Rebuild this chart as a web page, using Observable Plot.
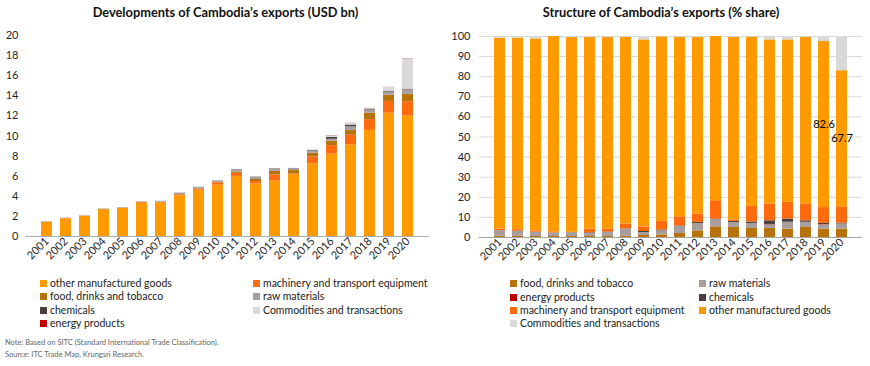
<!DOCTYPE html>
<html><head><meta charset="utf-8">
<script src="https://cdn.jsdelivr.net/npm/d3@7"></script>
<script src="https://cdn.jsdelivr.net/npm/@observablehq/plot@0.6"></script>
<style>
body{margin:0;background:#fff;font-family:Lato,"Open Sans",sans-serif;}
#wrap{position:relative;width:870px;height:366px;overflow:hidden;}
.title{position:absolute;top:4px;font-weight:bold;font-size:12.8px;color:#111;text-align:center;white-space:nowrap;line-height:16px;}
.chart{position:absolute;top:20px;}
.li{position:absolute;white-space:nowrap;line-height:12px;font-size:10.5px;color:#222;}
.sw{display:inline-block;width:7px;height:7px;margin-right:3px;}
.note{position:absolute;left:5px;font-size:7.5px;color:#666;white-space:nowrap;}
</style></head>
<body>
<div id="wrap">
  <div class="title" style="left:0;width:451px;">Developments of Cambodia’s exports (USD bn)</div>
  <div class="title" style="left:435px;width:452px;">Structure of Cambodia’s exports (% share)</div>
  <div id="left" class="chart" style="left:0"></div>
  <div id="right" class="chart" style="left:435px"></div>
  <div id="legL"></div>
  <div id="legR"></div>
  <div class="note" style="top:338px">Note: Based on SITC (Standard International Trade Classification).</div>
  <div class="note" style="top:350px">Source: ITC Trade Map, Krungsri Research.</div>
</div>
<script>
const years = ["2001","2002","2003","2004","2005","2006","2007","2008","2009","2010","2011","2012","2013","2014","2015","2016","2017","2018","2019","2020"];

const OTHER = "other manufactured goods";
const MACH = "machinery and transport equipment";
const FOOD = "food, drinks and tobacco";
const RAW = "raw materials";
const CHEM = "chemicals";
const COMM = "Commodities and transactions";
const ENERGY = "energy products";

const colors = {};
colors[OTHER] = "#ff9900";
colors[MACH] = "#ff6a0e";
colors[FOOD] = "#b8720a";
colors[RAW] = "#a99e9e";
colors[CHEM] = "#4a3f3f";
colors[COMM] = "#d9d9d9";
colors[ENERGY] = "#c00000";

// Left chart: USD bn
const leftOther  = [1.42,1.76,2.00,2.67,2.81,3.29,3.34,4.04,4.60,5.10,5.98,5.22,5.51,6.17,7.24,8.20,9.13,10.56,12.27,11.98];
const leftMach   = [0.01,0.02,0.02,0.01,0.01,0.07,0.05,0.10,0.11,0.24,0.31,0.25,0.62,0.05,0.67,0.84,0.94,1.07,1.17,1.43];
const leftFood   = [0.01,0.01,0.01,0.01,0.01,0.02,0.02,0.03,0.05,0.07,0.13,0.20,0.36,0.34,0.39,0.45,0.47,0.64,0.62,0.74];
const leftRaw    = [0.04,0.04,0.04,0.05,0.05,0.05,0.07,0.16,0.07,0.11,0.23,0.22,0.24,0.17,0.21,0.18,0.37,0.32,0.31,0.44];
const leftChem   = [0,0,0,0,0,0.01,0.01,0,0.03,0.02,0.01,0.03,0.02,0.03,0.06,0.18,0.18,0.09,0.09,0.07];
const leftComm   = [0.01,0.02,0.03,0,0.01,0.02,0.02,0.02,0.09,0.01,0.03,0.03,0,0.03,0.03,0.17,0.19,0.06,0.37,3.01];
const leftEnergy = [0,0,0,0,0,0,0,0,0,0,0,0,0,0,0,0.02,0.01,0.01,0.01,0.02];
const leftTicks = [0,2,4,6,8,10,12,14,16,18,20];

// Right chart: % share
const rightFood   = [0.7,0.6,0.5,0.5,0.5,0.5,0.5,0.6,1.0,1.3,2.0,3.3,5.3,5.0,4.5,4.5,4.2,5.0,4.2,4.2];
const rightRaw    = [2.6,2.4,2.0,1.7,1.8,1.5,2.0,3.6,1.5,2.0,3.5,3.7,3.5,2.5,2.5,1.8,3.3,2.5,2.1,2.5];
const rightEnergy = [0,0,0,0,0,0,0,0,0,0,0,0,0,0,0,0.2,0.1,0.1,0.1,0.1];
const rightChem   = [0.1,0.1,0.1,0.1,0.1,0.3,0.2,0.1,0.5,0.4,0.2,0.5,0.3,0.5,0.7,1.8,1.6,0.7,0.6,0.4];
const rightMach   = [0.8,0.8,0.7,0.5,0.2,1.9,1.5,2.4,2.3,4.3,4.6,4.2,9.2,0.8,7.8,8.4,8.3,8.4,7.9,8.1];
const rightOther  = [95.0,95.3,95.5,97.2,96.9,95.3,95.3,92.8,93.0,91.8,89.2,87.8,81.7,90.7,84.2,81.6,80.8,82.8,82.6,67.7];
const rightComm   = [0.8,0.8,1.2,0,0.5,0.5,0.5,0.5,1.7,0.2,0.5,0.5,0,0.5,0.3,1.7,1.7,0.5,2.5,17.0];
const rightTicks = [0,10,20,30,40,50,60,70,80,90,100];
const labelYears = ["2019","2020"];

const leftOrder = [OTHER, MACH, FOOD, RAW, CHEM, COMM, ENERGY];
const rightOrder = [FOOD, RAW, ENERGY, CHEM, MACH, OTHER, COMM];

const leftSeries = {};
leftSeries[OTHER]=leftOther; leftSeries[MACH]=leftMach; leftSeries[FOOD]=leftFood;
leftSeries[RAW]=leftRaw; leftSeries[CHEM]=leftChem; leftSeries[COMM]=leftComm; leftSeries[ENERGY]=leftEnergy;
const rightSeries = {};
rightSeries[OTHER]=rightOther; rightSeries[MACH]=rightMach; rightSeries[FOOD]=rightFood;
rightSeries[RAW]=rightRaw; rightSeries[CHEM]=rightChem; rightSeries[COMM]=rightComm; rightSeries[ENERGY]=rightEnergy;

const leftData = leftOrder.flatMap(s => years.map((y,i) => ({year:y, series:s, value:leftSeries[s][i]})));
const rightData = rightOrder.flatMap(s => years.map((y,i) => ({year:y, series:s, value:rightSeries[s][i]})));

const allSeries = leftOrder;
const colorScale = {domain: allSeries, range: allSeries.map(s => colors[s])};

const style = {fontFamily:"Lato, 'Open Sans', sans-serif", fontSize:"11px", color:"#262626", background:"transparent", overflow:"visible"};

const left = Plot.plot({
  width:435, height:250, marginTop:15, marginBottom:34, marginLeft:25, marginRight:6,
  style,
  x:{domain:years, padding:0.4, label:null, tickSize:0, tickRotate:-45, tickPadding:3},
  y:{domain:[0,20], ticks:leftTicks, tickSize:0, tickPadding:7, label:null},
  color:colorScale,
  marks:[
    Plot.barY(leftData, Plot.stackY({x:"year", y:"value", fill:"series", order:leftOrder})),
    Plot.ruleY([0], {stroke:"#b0b0b0"})
  ]
});
document.getElementById("left").appendChild(left);

const right = Plot.plot({
  width:435, height:250, marginTop:16, marginBottom:33, marginLeft:44, marginRight:8,
  style,
  x:{domain:years, padding:0.4, label:null, tickSize:0, tickRotate:-45, tickPadding:3},
  y:{domain:[0,100], ticks:rightTicks, tickSize:0, tickPadding:9, label:null},
  color:colorScale,
  marks:[
    Plot.ruleY(rightTicks.filter(t => t > 0), {stroke:"#d9d9d9"}),
    Plot.barY(rightData, Plot.stackY({x:"year", y:"value", fill:"series", order:rightOrder})),
    Plot.ruleY([0], {stroke:"#a6a6a6"}),
    Plot.text(rightData, Plot.stackY({x:"year", y:"value", z:"series", order:rightOrder,
      text: d => (d.series === OTHER && labelYears.includes(d.year)) ? d.value.toFixed(1) : "",
      fill:"#000", fontSize:11}))
  ]
});
document.getElementById("right").appendChild(right);

function legend(id, items, cols, rows) {
  const el = document.getElementById(id);
  items.forEach((s, i) => {
    const r = Math.floor(i / 2), c = i % 2;
    const d = document.createElement("div");
    d.className = "li";
    d.style.left = cols[c] + "px";
    d.style.top = (rows[r] - 6) + "px";
    d.innerHTML = `<span class="sw" style="background:${colors[s]}"></span>${s}`;
    el.appendChild(d);
  });
}
legend("legL", [OTHER, MACH, FOOD, RAW, CHEM, COMM, ENERGY], [40, 253], [283, 296, 310, 323]);
legend("legR", [FOOD, RAW, ENERGY, CHEM, MACH, OTHER, COMM], [510, 699], [283, 297, 310, 323]);
</script>
</body></html>
